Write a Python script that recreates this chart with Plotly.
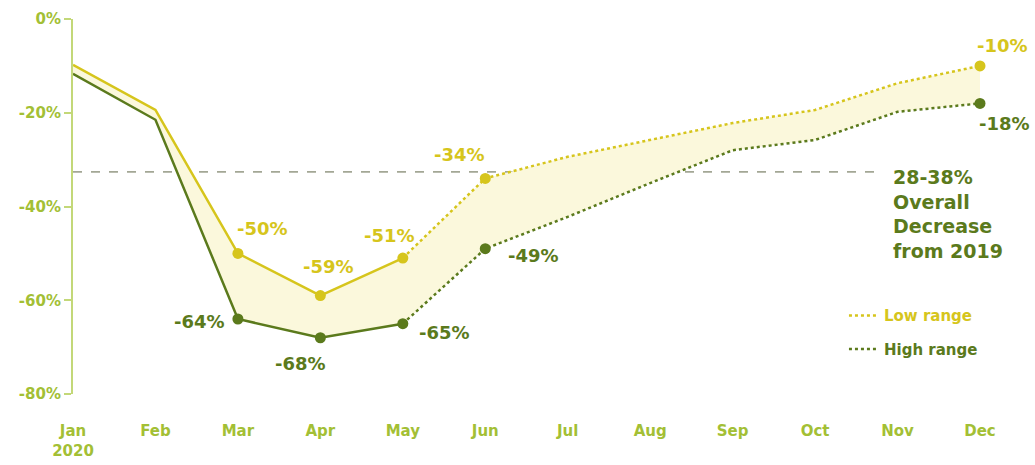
import plotly.graph_objects as go

months = ["Jan<br>2020", "Feb", "Mar", "Apr", "May", "Jun", "Jul", "Aug", "Sep", "Oct", "Nov", "Dec"]
low_range = [-9.8, -19.4, -50, -59, -51, -34, -29.4, -25.8, -22.2, -19.4, -13.7, -10]
high_range = [-11.7, -21.5, -64, -68, -65, -49, -42.2, -35, -28, -25.8, -19.8, -18]
overall_decrease = -32.6
y_ticks = [0, -20, -40, -60, -80]
y_tick_text = ["0%", "-20%", "-40%", "-60%", "-80%"]

# labelled points: index -> (xshift, yshift)
low_labels = {2: (25, 25), 3: (8, 29), 4: (-13, 23), 5: (-26, 24), 11: (22, 20)}
high_labels = {2: (-38, -2), 3: (-20, -26), 4: (42, -9), 5: (48, -7), 11: (24, -20)}

LOW = "#d6c51c"
HIGH = "#5b7a1c"
FILL = "#fbf8dc"
AX = "#c3d878"
TICK = "#a3bf35"
FONT = "DejaVu Sans"

x = list(range(len(months)))
solid_end = 4  # solid lines through May, dotted afterwards

fig = go.Figure()
# fill between
fig.add_trace(go.Scatter(x=x, y=high_range, mode="lines", line=dict(width=0), showlegend=False, hoverinfo="skip"))
fig.add_trace(go.Scatter(x=x, y=low_range, mode="lines", line=dict(width=0), fill="tonexty",
                         fillcolor=FILL, showlegend=False, hoverinfo="skip"))

for vals, col in [(low_range, LOW), (high_range, HIGH)]:
    fig.add_trace(go.Scatter(x=x[:solid_end + 1], y=vals[:solid_end + 1], mode="lines",
                             line=dict(color=col, width=2.5), showlegend=False, hoverinfo="skip"))
    fig.add_trace(go.Scatter(x=x[solid_end:], y=vals[solid_end:], mode="lines",
                             line=dict(color=col, width=2.5, dash="dot"), showlegend=False, hoverinfo="skip"))

# markers and value labels
for vals, col, labels in [(low_range, LOW, low_labels), (high_range, HIGH, high_labels)]:
    idx = sorted(labels)
    fig.add_trace(go.Scatter(x=[x[i] for i in idx], y=[vals[i] for i in idx], mode="markers",
                             marker=dict(color=col, size=11), showlegend=False, hoverinfo="skip"))
    for i in idx:
        dx, dy = labels[i]
        fig.add_annotation(x=x[i], y=vals[i], text=f"{round(vals[i])}%", showarrow=False,
                           xshift=dx, yshift=dy,
                           font=dict(family=FONT, size=18, color=col, weight="bold"))

# legend traces
for col, name in [(LOW, "Low range"), (HIGH, "High range")]:
    fig.add_trace(go.Scatter(x=[None], y=[None], mode="lines", name=f"<span style='color:{col}'>{name}</span>",
                             legendgroup=name, line=dict(color=col, width=2.5, dash="dot")))

fig.add_shape(type="line", xref="x", yref="y", x0=0, x1=9.8, y0=overall_decrease, y1=overall_decrease,
              line=dict(color="#a3a795", width=1.8, dash="dash"), layer="below")
fig.add_annotation(x=9.92, y=overall_decrease, xanchor="left", yanchor="top", yshift=8, align="left",
                   text="28-38%<br>Overall<br>Decrease<br>from 2019", showarrow=False,
                   font=dict(family=FONT, size=19, color=HIGH, weight="bold"))

fig.update_layout(
    width=1035, height=465,
    margin=dict(l=73, r=55, t=19, b=71, autoexpand=False),
    paper_bgcolor="white", plot_bgcolor="white",
    font=dict(family=FONT, color=TICK),
    legend=dict(x=0.85, y=0.165, xanchor="left", yanchor="middle", bgcolor="rgba(0,0,0,0)",
                traceorder="grouped",
                font=dict(family=FONT, size=15, weight="bold"), tracegroupgap=11, itemwidth=30),
    xaxis=dict(range=[0, 11], tickvals=x, ticktext=months, showgrid=False, zeroline=False,
               showline=False, ticks="", ticklabelstandoff=26, automargin=False,
               tickfont=dict(family=FONT, size=15, color=TICK, weight="bold")),
    yaxis=dict(range=[-80, 0], tickvals=y_ticks, ticktext=y_tick_text, showgrid=False, zeroline=False,
               showline=True, linecolor=AX, linewidth=2, ticks="outside", tickcolor=AX, ticklen=7,
               tickwidth=1.5, automargin=False,
               tickfont=dict(family=FONT, size=15, color=TICK, weight="bold")),
)
for tr in fig.data:
    tr.update(cliponaxis=False)

fig.write_html("out.html")
